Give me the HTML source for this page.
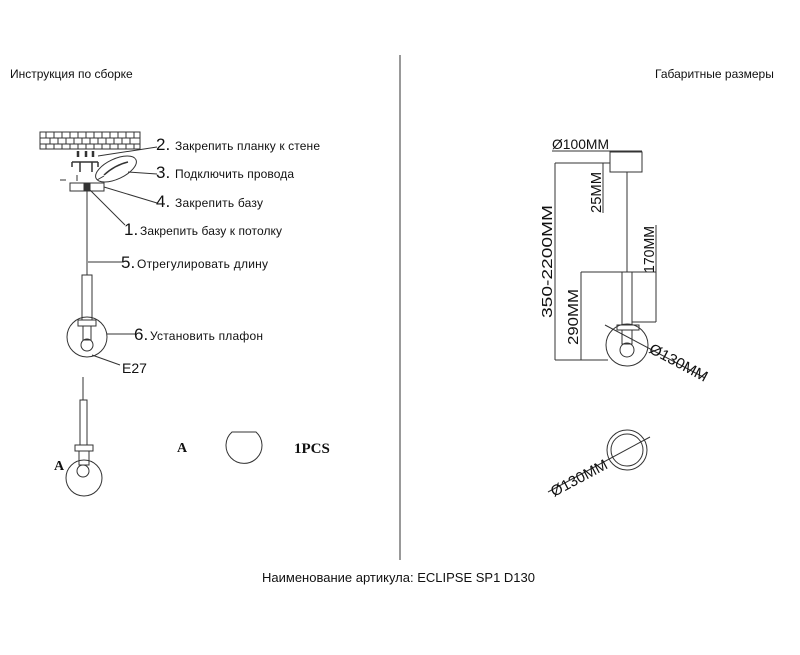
<!DOCTYPE html>
<html><head><meta charset="utf-8"><style>
html,body{margin:0;padding:0;background:#fff;}
svg{display:block;}
text{font-family:"Liberation Sans",sans-serif;fill:#111;}
</style></head><body>
<svg width="800" height="655" viewBox="0 0 800 655" xmlns="http://www.w3.org/2000/svg">
<line x1="400" y1="55" x2="400" y2="560" stroke="#333" stroke-width="1"/>
<text x="10" y="78" font-size="12">Инструкция по сборке</text>
<text x="655" y="78" font-size="12">Габаритные размеры</text>
<text x="262" y="582" font-size="13">Наименование артикула: ECLIPSE SP1 D130</text>

<g stroke="#333" stroke-width="1" fill="none">
<rect x="40" y="132" width="100" height="17"/>
<line x1="40" y1="138" x2="140" y2="138"/><line x1="40" y1="144" x2="140" y2="144"/>
<path d="M46 132v6M54 132v6M62 132v6M70 132v6M78 132v6M86 132v6M94 132v6M102 132v6M110 132v6M118 132v6M126 132v6M134 132v6 M50 138v6M58 138v6M66 138v6M74 138v6M82 138v6M90 138v6M98 138v6M106 138v6M114 138v6M122 138v6M130 138v6 M46 144v5M54 144v5M62 144v5M70 144v5M78 144v5M86 144v5M94 144v5M102 144v5M110 144v5M118 144v5M126 144v5M134 144v5"/>
<path d="M78 151v6M86 151v6M93 151v6" stroke-width="2.5"/>
<path d="M72 162h26M72 162v5M98 162v5M80 162v10M92 162v10" stroke-width="1.5"/>
<ellipse cx="116" cy="169" rx="22" ry="10" transform="rotate(-25 116 169)"/>
<path d="M104 175 Q115 165 128 162" stroke-width="1.5"/>
<line x1="97" y1="180" x2="104" y2="176"/>
<rect x="70" y="183" width="34" height="8"/>
<rect x="84" y="183" width="6" height="8" fill="#333"/>
<path d="M60 180h6M77 175v6"/>
<line x1="87" y1="191" x2="87" y2="275"/>
<rect x="82" y="275" width="10" height="45"/>
<rect x="78" y="320" width="18" height="6"/>
<circle cx="87" cy="337" r="20"/>
<circle cx="87" cy="345" r="6"/>
<rect x="83" y="326" width="8" height="14"/>
<line x1="98" y1="156" x2="157" y2="147"/>
<line x1="128" y1="172" x2="157" y2="174"/>
<line x1="104" y1="187" x2="157" y2="203"/>
<line x1="90" y1="190" x2="125" y2="225"/>
<line x1="88" y1="262" x2="122" y2="262"/>
<line x1="107" y1="334" x2="135" y2="334"/>
<line x1="92" y1="355" x2="120" y2="365"/>
</g>
<text x="156" y="150" font-size="17">2.</text><text x="175" y="150" font-size="12" textLength="145">Закрепить планку к стене</text>
<text x="156" y="178" font-size="17">3.</text><text x="175" y="178" font-size="12" textLength="119">Подключить провода</text>
<text x="156" y="207" font-size="17">4.</text><text x="175" y="207" font-size="12" textLength="88">Закрепить базу</text>
<text x="124" y="235" font-size="17">1.</text><text x="140" y="235" font-size="12" textLength="142">Закрепить базу к потолку</text>
<text x="121" y="268" font-size="17">5.</text><text x="137" y="268" font-size="12" textLength="131">Отрегулировать длину</text>
<text x="134" y="340" font-size="17">6.</text><text x="150" y="340" font-size="12" textLength="113">Установить плафон</text>
<text x="122" y="373" font-size="14">E27</text>

<g stroke="#333" stroke-width="1" fill="none">
<line x1="83" y1="377" x2="83" y2="400"/>
<rect x="80" y="400" width="7" height="45"/>
<rect x="75" y="445" width="18" height="6"/>
<rect x="79" y="451" width="10" height="14"/>
<circle cx="84" cy="478" r="18"/>
<circle cx="83" cy="471" r="6"/>
<path d="M232 432 A18 18 0 1 0 256 432 Z"/>
</g>
<text x="54" y="470" font-size="14" style="font-family:'Liberation Serif',serif;font-weight:bold">A</text>
<text x="177" y="452" font-size="14" style="font-family:'Liberation Serif',serif;font-weight:bold">A</text>
<text x="294" y="453" font-size="15" style="font-family:'Liberation Serif',serif;font-weight:bold">1PCS</text>

<g stroke="#333" stroke-width="1" fill="none">
<rect x="610" y="152" width="32" height="20"/>
<line x1="552" y1="151" x2="642" y2="151"/>
<line x1="555" y1="163" x2="610" y2="163"/>
<line x1="555" y1="163" x2="555" y2="360"/>
<line x1="555" y1="360" x2="608" y2="360"/>
<line x1="603" y1="163" x2="603" y2="213"/>
<line x1="627" y1="172" x2="627" y2="272"/>
<rect x="622" y="272" width="10" height="53"/>
<line x1="581" y1="272" x2="656" y2="272"/>
<line x1="581" y1="272" x2="581" y2="360"/>
<line x1="656" y1="225" x2="656" y2="322"/>
<line x1="632" y1="322" x2="656" y2="322"/>
<rect x="617" y="325" width="22" height="5"/>
<rect x="622" y="330" width="10" height="14"/>
<circle cx="627" cy="350" r="7"/>
<circle cx="627" cy="345" r="21"/>
<line x1="605" y1="325" x2="705" y2="378"/>
<circle cx="627" cy="450" r="20"/>
<circle cx="627" cy="450" r="16"/>
<line x1="548" y1="492" x2="650" y2="437"/>
</g>
<text x="552" y="149" font-size="14" textLength="57" lengthAdjust="spacingAndGlyphs">Ø100MM</text>
<text transform="translate(601,213) rotate(-90)" font-size="15" textLength="41" lengthAdjust="spacingAndGlyphs">25MM</text>
<text transform="translate(552,318) rotate(-90)" font-size="15" textLength="113" lengthAdjust="spacingAndGlyphs">350-2200MM</text>
<text transform="translate(578,345) rotate(-90)" font-size="15" textLength="56" lengthAdjust="spacingAndGlyphs">290MM</text>
<text transform="translate(654,273) rotate(-90)" font-size="15" textLength="47" lengthAdjust="spacingAndGlyphs">170MM</text>
<text transform="translate(648,352) rotate(28)" font-size="15" textLength="64" lengthAdjust="spacingAndGlyphs">Ø130MM</text>
<text transform="translate(554,497) rotate(-28)" font-size="15" textLength="62" lengthAdjust="spacingAndGlyphs">Ø130MM</text>
</svg>
</body></html>
